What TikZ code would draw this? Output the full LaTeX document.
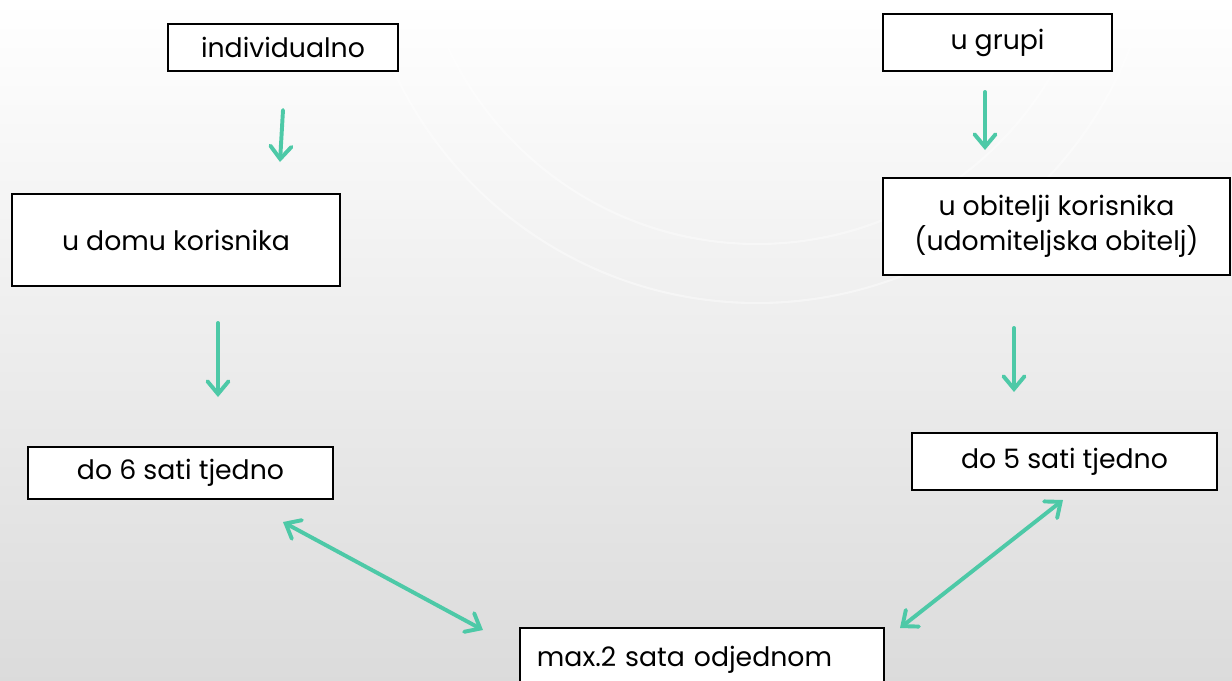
\documentclass[tikz,border=0pt]{standalone}
\usepackage{fontspec}
\setmainfont{Poppins}
\usetikzlibrary{arrows.meta}
\definecolor{arrowgreen}{RGB}{77,201,167}
\tikzset{
    box/.style={draw=black, line width=1.8pt, fill=white, align=center,
        inner sep=0pt, font=\fontsize{19}{25}\selectfont},
    arr/.style={draw=arrowgreen, line width=2.8pt, line cap=round,
        -{Straight Barb[length=9pt,width=15pt,line cap=round]}},
    dblarr/.style={arr, {Straight Barb[length=9pt,width=15pt,line cap=round]}-{Straight Barb[length=9pt,width=15pt,line cap=round]}},
}
\begin{document}
\begin{tikzpicture}[x=0.025cm, y=-0.025cm]
            \clip (0,0) rectangle (1232,680);
            \shade[top color=white, bottom color=gray!28] (0,0) rectangle (1232,680);
            \foreach \r in {127,341,400}
            {
                \draw[white, line width=1.5pt, opacity=0.4] (757,-97) circle (\r);
            }

            % left column
            \node[box, minimum width=5.75cm, minimum height=1.175cm] (ind) at (283,47.5) {individualno};
            \node[box, minimum width=8.2cm, minimum height=2.3cm] (dom) at (176,240) {u domu korisnika};
            \node[box, minimum width=7.625cm, minimum height=1.3cm] (six) at (180.5,473) {do 6 sati tjedno};

            % right column
            \node[box, minimum width=5.725cm, minimum height=1.425cm] (grp) at (997.5,42.5) {u grupi};
            \node[box, minimum width=8.675cm, minimum height=2.425cm] (obi) at (1056.5,226.5) {u obitelji korisnika\\(udomiteljska obitelj)};
            \node[box, minimum width=7.625cm, minimum height=1.425cm] (five) at (1064.5,461.5) {do 5 sati tjedno};

            % bottom
            \node[box, minimum width=9.1cm, minimum height=1.6cm, text width=8.25cm, align=left] (max) at (702,660) {max.2 sata odjednom};

            \coordinate (a1s) at (283,110);  \coordinate (a1e) at (280,162);
            \coordinate (a2s) at (218,323);  \coordinate (a2e) at (218,397);
            \coordinate (a3s) at (985,92);   \coordinate (a3e) at (985,150);
            \coordinate (a4s) at (1014,328); \coordinate (a4e) at (1014,392);
            \coordinate (d1s) at (283,522);  \coordinate (d1e) at (483,630);
            \coordinate (d2s) at (1063,500); \coordinate (d2e) at (900,628);

            \draw[arr] (a1s) -- (a1e);
            \draw[arr] (a2s) -- (a2e);
            \draw[arr] (a3s) -- (a3e);
            \draw[arr] (a4s) -- (a4e);
            \draw[dblarr] (d1s) -- (d1e);
            \draw[dblarr] (d2s) -- (d2e);
        \end{tikzpicture}
\end{document}
